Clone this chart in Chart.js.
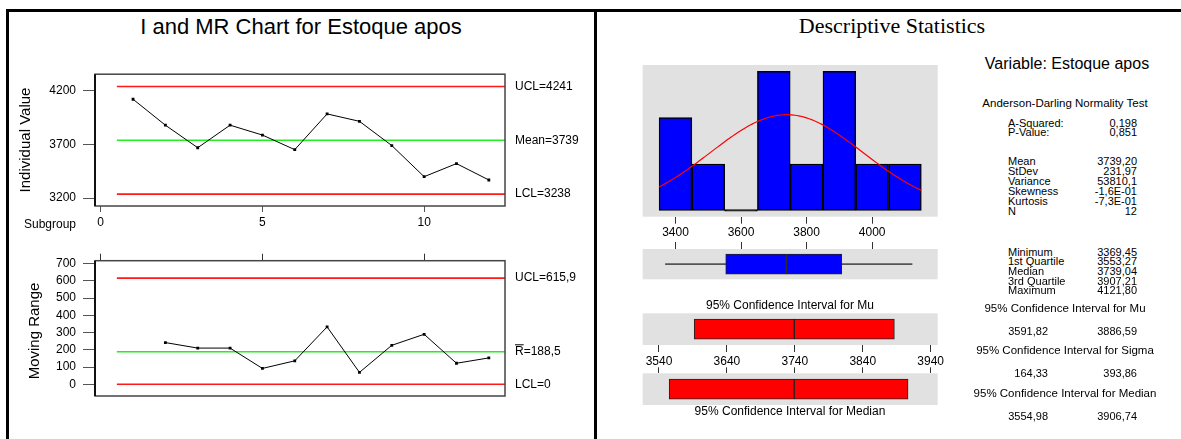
<!DOCTYPE html>
<html>
<head>
<meta charset="utf-8">
<title>I and MR Chart / Descriptive Statistics - Estoque apos</title>
<script src="https://cdn.jsdelivr.net/npm/chart.js@4.4.1/dist/chart.umd.min.js"></script>
<style>
  html, body { margin: 0; padding: 0; background: #fff; }
  #page { position: relative; width: 1181px; height: 439px; overflow: hidden;
          font-family: "Liberation Sans", Arial, sans-serif; color: #000; }
  canvas { position: absolute; }
  .rule { position: absolute; background: #000; }
  .txt { position: absolute; white-space: nowrap; line-height: 1; }
</style>
</head>
<body>
<div id="page">
  <div class="rule" style="left:6px;top:9px;width:1175px;height:3px"></div>
  <div class="rule" style="left:6px;top:9px;width:3px;height:430px"></div>
  <div class="rule" style="left:594px;top:9px;width:3px;height:430px"></div>

  <canvas id="iChart"   width="600" height="180" style="left:0;top:60px"></canvas>
  <canvas id="mrChart"  width="600" height="199" style="left:0;top:240px"></canvas>
  <canvas id="histChart" width="380" height="200" style="left:600px;top:40px"></canvas>
  <canvas id="boxChart" width="380" height="55"  style="left:600px;top:230px"></canvas>
  <canvas id="muChart"  width="380" height="75"  style="left:600px;top:300px"></canvas>
  <canvas id="medChart" width="380" height="50"  style="left:600px;top:360px"></canvas>
</div>
<script>
// ---- data: Estoque apos, 12 observations ----
const subgroups      = [1, 2, 3, 4, 5, 6, 7, 8, 9, 10, 11, 12];
const individuals    = [4121.80, 3880, 3670, 3880, 3788, 3652, 3985, 3916, 3690, 3400, 3522, 3369.45];
const movingRanges   = [null, 242, 210, 210, 92, 136, 333, 69, 226, 290, 122, 153];
const subgroupTicks  = [0, 5, 10];

const iLimitNames    = ['UCL', 'Mean', 'LCL'];
const iLimitValues   = [4241, 3739, 3238];
const iTicks         = [3200, 3700, 4200];

const mrLimitNames   = ['UCL', 'R', 'LCL'];
const mrLimitValues  = [615.9, 188.5, 0];
const mrTicks        = [0, 100, 200, 300, 400, 500, 600, 700];

const histBins       = [3400, 3500, 3600, 3700, 3800, 3900, 4000, 4100];
const histCounts     = [2, 1, 0, 3, 1, 3, 1, 1];
const histTicks      = [3400, 3600, 3800, 4000];

const adNames        = ['A-Squared:', 'P-Value:'];
const adValues       = [0.198, 0.851];
const momentNames    = ['Mean', 'StDev', 'Variance', 'Skewness', 'Kurtosis', 'N'];
const momentValues   = [3739.20, 231.97, 53810.1, -0.16, -0.73, 12];
const quantileNames  = ['Minimum', '1st Quartile', 'Median', '3rd Quartile', 'Maximum'];
const quantileValues = [3369.45, 3553.27, 3739.04, 3907.21, 4121.80];
const ciMu           = [3591.82, 3886.59];
const ciSigma        = [164.33, 393.86];
const ciMedian       = [3554.98, 3906.74];
const ciTicks        = [3540, 3640, 3740, 3840, 3940];

// ---- helpers ----
Chart.defaults.font.family = '"Liberation Sans", Arial, sans-serif';
Chart.defaults.font.size = 12;
Chart.defaults.color = '#000';

const page = document.getElementById('page');
function text(str, x, y, o = {}) {
  const d = document.createElement('div');
  d.className = 'txt';
  d.textContent = str;
  d.style.fontSize = (o.size || 12) + 'px';
  if (o.family) d.style.fontFamily = o.family;
  d.style.left = x + 'px';
  d.style.top = y + 'px';
  const ax = o.align === 'right' ? '-100%' : o.align === 'left' ? '0' : '-50%';
  d.style.transform = `translate(${ax}, -50%)` + (o.rotate ? ` rotate(${o.rotate}deg)` : '');
  if (o.rotate) d.style.transformOrigin = '50% 50%';
  page.appendChild(d);
  return d;
}
const comma = (v, d) => v.toFixed(d).replace('.', ',');
function sci(v) {
  const [m, e] = v.toExponential(1).split('e');
  const n = parseInt(e, 10);
  return m.replace('.', ',') + 'E' + (n < 0 ? '-' : '+') + String(Math.abs(n)).padStart(2, '0');
}
const fixedTicks = vals => scale => { scale.ticks = vals.map(v => ({ value: v })); };
const plain = v => String(v);

const boxFrame = {
  id: 'boxFrame',
  afterDraw(chart) {
    const { ctx, chartArea: a } = chart;
    ctx.save();
    ctx.strokeStyle = '#444';
    ctx.lineWidth = 1.5;
    ctx.strokeRect(a.left, a.top, a.right - a.left, a.bottom - a.top);
    ctx.strokeStyle = '#111';
    ctx.lineWidth = 2;
    ctx.beginPath();
    ctx.moveTo(a.left, a.top); ctx.lineTo(a.left, a.bottom);
    ctx.stroke();
    ctx.restore();
  }
};
const panelFill = {
  id: 'panelFill',
  beforeDraw(chart) {
    const { ctx, chartArea: a } = chart;
    ctx.save();
    ctx.fillStyle = '#e1e1e1';
    ctx.fillRect(a.left, a.top, a.right - a.left, a.bottom - a.top);
    ctx.restore();
  }
};
// control-limit captions to the right of the plot, placed on the limit values
const limitLabels = {
  id: 'limitLabels',
  afterDraw(chart, args, o) {
    const { ctx, chartArea: a } = chart;
    const ys = chart.scales.y;
    ctx.save();
    ctx.font = '12px "Liberation Sans", Arial, sans-serif';
    ctx.fillStyle = '#000';
    ctx.textBaseline = 'middle';
    o.names.forEach((nm, i) => {
      const y = ys.getPixelForValue(o.values[i]);
      const x = a.right + 10;
      ctx.fillText(nm + '=' + o.format(o.values[i]), x, y);
      if (o.bar && o.bar[i]) {
        const w = ctx.measureText(nm).width;
        ctx.fillRect(x, y - 7.5, w, 1);
      }
    });
    ctx.restore();
  }
};

const limitSpan = [subgroups[0] - 0.5, subgroups[subgroups.length - 1] + 0.5];
function limitLine(v, color) {
  return { data: limitSpan.map(x => ({ x, y: v })), borderColor: color, borderWidth: 1.6,
           pointRadius: 0, order: 2 };
}
const redLine = '#ff1a1a', greenLine = '#22ee22';

const base = {
  animation: false, responsive: false, events: [],
  plugins: { legend: { display: false }, tooltip: { enabled: false } }
};
const xSub = extra => Object.assign({
  type: 'linear', min: -0.176, max: 12.5,
  afterBuildTicks: fixedTicks(subgroupTicks),
  border: { display: false },
  grid: { drawOnChartArea: false, color: '#555', tickLength: 6 },
}, extra);

// ---- Individuals chart ----
new Chart(document.getElementById('iChart'), {
  type: 'line',
  data: { datasets: [
    { data: subgroups.map((s, i) => ({ x: s, y: individuals[i] })), borderColor: '#000',
      borderWidth: 1, pointRadius: 2, pointStyle: 'rect', pointBackgroundColor: '#000',
      pointBorderWidth: 0, order: 0 },
    limitLine(iLimitValues[0], redLine),
    limitLine(iLimitValues[1], greenLine),
    limitLine(iLimitValues[2], redLine)
  ] },
  options: Object.assign({}, base, {
    layout: { padding: { top: 11, right: 95, left: 0, bottom: 0 } },
    plugins: Object.assign({}, base.plugins, {
      limitLabels: { names: iLimitNames, values: iLimitValues, format: plain }
    }),
    scales: {
      x: xSub({ afterFit: s => { s.height = 34; },
                ticks: { padding: 3, font: { size: 12 }, callback: plain } }),
      y: {
        min: 3127, max: 4355,
        afterBuildTicks: fixedTicks(iTicks),
        afterFit: s => { s.width = 95; },
        border: { display: false },
        grid: { drawOnChartArea: false, color: '#555', tickLength: 12 },
        ticks: { padding: 7, font: { size: 12 }, callback: plain }
      }
    }
  }),
  plugins: [boxFrame, limitLabels]
});

// ---- Moving range chart ----
new Chart(document.getElementById('mrChart'), {
  type: 'line',
  data: { datasets: [
    { data: subgroups.map((s, i) => ({ x: s, y: movingRanges[i] })).filter(p => p.y !== null),
      borderColor: '#000', borderWidth: 1, pointRadius: 2, pointStyle: 'rect',
      pointBackgroundColor: '#000', pointBorderWidth: 0, order: 0 },
    limitLine(mrLimitValues[0], redLine),
    limitLine(mrLimitValues[1], greenLine),
    limitLine(mrLimitValues[2], redLine)
  ] },
  options: Object.assign({}, base, {
    layout: { padding: { top: 0, right: 95, left: 0, bottom: 43 } },
    plugins: Object.assign({}, base.plugins, {
      limitLabels: { names: mrLimitNames, values: mrLimitValues, bar: [false, true, false],
                     format: v => (Number.isInteger(v) ? String(v) : comma(v, 1)) }
    }),
    scales: {
      x: xSub({ position: 'top', afterFit: s => { s.height = 20.7; },
                grid: { drawOnChartArea: false, color: '#333', tickLength: 7 },
                ticks: { display: false } }),
      y: {
        min: -68, max: 717,
        afterBuildTicks: fixedTicks(mrTicks),
        afterFit: s => { s.width = 95; },
        border: { display: false },
        grid: { drawOnChartArea: false, color: '#555', tickLength: 12 },
        ticks: { padding: 7, font: { size: 12 }, callback: plain }
      }
    }
  }),
  plugins: [boxFrame, limitLabels]
});

// ---- Histogram with fitted normal curve ----
const mean = momentValues[0], sd = momentValues[1], nObs = momentValues[5];
const binWidth = histBins[1] - histBins[0];
const curve = [];
for (let x = histBins[0] - binWidth / 2; x <= histBins[histBins.length - 1] + binWidth / 2; x += 5) {
  const z = (x - mean) / sd;
  curve.push({ x, y: nObs * binWidth * Math.exp(-0.5 * z * z) / (sd * Math.sqrt(2 * Math.PI)) });
}
new Chart(document.getElementById('histChart'), {
  type: 'bar',
  data: { datasets: [
    { type: 'line', data: curve, borderColor: '#ff0000', borderWidth: 1.2, pointRadius: 0, order: 0 },
    { data: histBins.map((b, i) => ({ x: b, y: histCounts[i] })),
      backgroundColor: c => (histCounts[c.dataIndex] === 0 ? '#000' : '#0000ff'),
      borderColor: '#000', borderWidth: 1.5, borderSkipped: false, minBarLength: 1.5,
      barPercentage: 1, categoryPercentage: 1, order: 1 }
  ] },
  options: Object.assign({}, base, {
    layout: { padding: { top: 25, right: 42.3, left: 42.7, bottom: 0 } },
    scales: {
      x: { type: 'linear', min: 3300, max: 4200, offset: false,
           afterBuildTicks: fixedTicks(histTicks), afterFit: s => { s.height = 23.3; },
           border: { display: false },
           grid: { offset: false, drawOnChartArea: false, color: '#333', tickLength: 7 },
           ticks: { padding: 2, font: { size: 12 }, callback: plain } },
      y: { display: false, min: -0.138, max: 3.136 }
    }
  }),
  plugins: [panelFill]
});

// ---- Box plot (five-number summary) ----
const q = quantileValues;
function floatBars(ranges, fill, thick) {
  return ranges.map(r => ({ data: [r], backgroundColor: fill, borderColor: '#222', borderWidth: 1,
                            borderSkipped: false, barThickness: thick, grouped: false, order: 0 }));
}
new Chart(document.getElementById('boxChart'), {
  type: 'bar',
  data: { labels: [''], datasets: [
    ...floatBars([[q[1], q[2]], [q[2], q[3]]], '#0000ff', 20),
    { data: [[q[0], q[4]]], backgroundColor: '#555', borderWidth: 0, barThickness: 1.2,
      grouped: false, order: 1 }
  ] },
  options: Object.assign({}, base, {
    indexAxis: 'y',
    layout: { padding: { top: 0, right: 42.3, left: 42.7, bottom: 5.7 } },
    scales: {
      x: { type: 'linear', position: 'top', min: 3300, max: 4200,
           afterBuildTicks: fixedTicks(histTicks), afterFit: s => { s.height = 19; },
           border: { display: false },
           grid: { drawOnChartArea: false, color: '#333', tickLength: 7 },
           ticks: { display: false } },
      y: { display: false }
    }
  }),
  plugins: [panelFill]
});

// ---- Confidence intervals for Mu and for the median ----
function ciChart(id, lo, mid, hi, axis) {
  new Chart(document.getElementById(id), {
    type: 'bar',
    data: { labels: [''], datasets: floatBars([[lo, mid], [mid, hi]], '#ff0000', 20) },
    options: Object.assign({}, base, {
      indexAxis: 'y',
      layout: { padding: axis === 'bottom'
        ? { top: 13.3, right: 42.3, left: 42.7, bottom: 0 }
        : { top: 0, right: 42.3, left: 42.7, bottom: 5 } },
      scales: {
        x: { type: 'linear', position: axis, min: 3516, max: 3950.4,
             afterBuildTicks: fixedTicks(ciTicks),
             afterFit: s => { s.height = axis === 'bottom' ? 30 : 13.3; },
             border: { display: false },
             grid: { drawOnChartArea: false, color: '#333', tickLength: axis === 'bottom' ? 7 : 6 },
             ticks: { display: axis === 'bottom', padding: 2, font: { size: 12 }, callback: plain } },
        y: { display: false }
      }
    }),
    plugins: [panelFill]
  });
}
ciChart('muChart', ciMu[0], mean, ciMu[1], 'bottom');
ciChart('medChart', ciMedian[0], q[2], ciMedian[1], 'top');

// ---- titles and captions ----
text('I and MR Chart for Estoque apos', 301, 27, { size: 22 });
text('Individual Value', 24, 140, { size: 15, rotate: -90 });
text('Moving Range', 33, 331, { size: 15, rotate: -90 });
text('Subgroup', 76, 224, { size: 12, align: 'right' });
text('Descriptive Statistics', 892, 26, { size: 22, family: '"Liberation Serif", "Times New Roman", serif' });
text('95% Confidence Interval for Mu', 790, 305, { size: 12 });
text('95% Confidence Interval for Median', 790, 411, { size: 12 });

// ---- summary table ----
const S = 11, L = 1008, R = 1137;
text('Variable: Estoque apos', 1067, 64, { size: 16 });
text('Anderson-Darling Normality Test', 1065, 104, { size: 11.5 });
adNames.forEach((nm, i) => {
  text(nm, L, 122.5 + i * 9.5, { size: S, align: 'left' });
  text(comma(adValues[i], 3), R, 122.5 + i * 9.5, { size: S, align: 'right' });
});
const momentText = [comma(momentValues[0], 2), comma(momentValues[1], 2), comma(momentValues[2], 1),
                    sci(momentValues[3]), sci(momentValues[4]), String(momentValues[5])];
momentNames.forEach((nm, i) => {
  text(nm, L, 161 + i * 9.9, { size: S, align: 'left' });
  text(momentText[i], R, 161 + i * 9.9, { size: S, align: 'right' });
});
quantileNames.forEach((nm, i) => {
  text(nm, L, 251.5 + i * 9.7, { size: S, align: 'left' });
  text(comma(quantileValues[i], 2), R, 251.5 + i * 9.7, { size: S, align: 'right' });
});
[['Mu', ciMu, 308.5, 330.5], ['Sigma', ciSigma, 350.7, 373.3], ['Median', ciMedian, 394, 416]]
  .forEach(([nm, ci, yh, yv]) => {
    text('95% Confidence Interval for ' + nm, 1065, yh, { size: 11.5 });
    text(comma(ci[0], 2), 1048, yv, { size: S, align: 'right' });
    text(comma(ci[1], 2), R, yv, { size: S, align: 'right' });
  });
</script>
</body>
</html>
